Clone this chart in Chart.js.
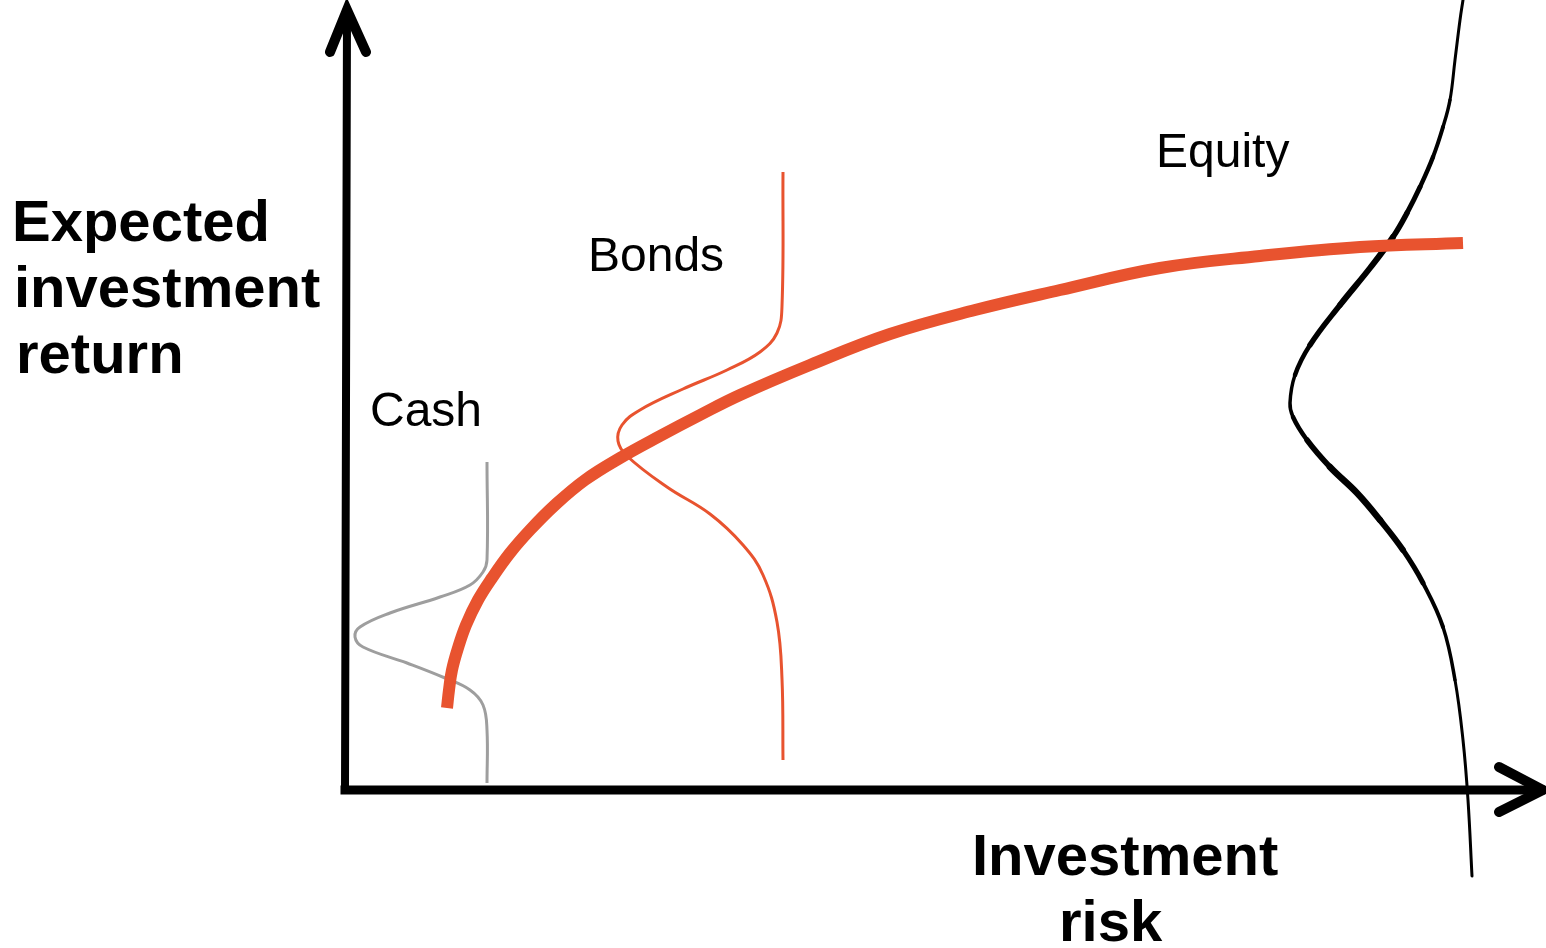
<!DOCTYPE html>
<html>
<head>
<meta charset="utf-8">
<script src="https://cdn.jsdelivr.net/npm/chart.js@4"></script>
<style>
  html, body { margin: 0; padding: 0; background: #fff; }
  #wrap { position: relative; width: 1546px; height: 948px; overflow: hidden; }
  .lbl { position: absolute; font-family: "Liberation Sans", Arial, sans-serif; color: #000; white-space: nowrap; }
  .big { font-size: 58px; font-weight: bold; line-height: 66px; }
  .small { font-size: 48px; line-height: 48px; }
</style>
</head>
<body>
<div id="wrap">
  <canvas id="chart" width="1546" height="948"></canvas>
  <div class="lbl big" style="left:12px;top:188px;">Expected</div>
  <div class="lbl big" style="left:14px;top:254px;">investment</div>
  <div class="lbl big" style="left:16px;top:320px;">return</div>
  <div class="lbl big" style="left:972px;top:822px;">Investment</div>
  <div class="lbl big" style="left:1059px;top:888px;">risk</div>
  <div class="lbl small" style="left:370px;top:386px;">Cash</div>
  <div class="lbl small" style="left:588px;top:231px;">Bonds</div>
  <div class="lbl small" style="left:1156px;top:127px;">Equity</div>
</div>
<script>
// risk (x) / return (y) in arbitrary units, origin at the axes corner
const frontier = [
  {x:10.2,y:8.2},{x:10.4,y:10.0},{x:10.7,y:12.0},{x:11.3,y:14.2},{x:12.1,y:16.5},
  {x:13.3,y:19.0},{x:14.7,y:21.2},{x:16.5,y:23.7},{x:18.5,y:26.0},{x:21.0,y:28.5},
  {x:24.0,y:31.0},{x:27.5,y:33.2},{x:31.5,y:35.4},{x:35.5,y:37.5},{x:39.5,y:39.5},
  {x:46.5,y:42.5},{x:54.5,y:45.6},{x:63.0,y:48.0},{x:71.5,y:50.0},{x:81.5,y:52.2},
  {x:91.5,y:53.4},{x:101.5,y:54.3},{x:111.8,y:54.7}
];
const cash = [
  {x:14.2,y:32.8},{x:14.2,y:23.0},{x:13.8,y:21.8},{x:12.5,y:20.5},{x:9.5,y:19.3},
  {x:4.5,y:17.7},{x:1.5,y:16.3},{x:1.0,y:15.3},{x:1.8,y:14.3},{x:6.2,y:12.7},
  {x:10.0,y:11.2},{x:12.5,y:10.0},{x:13.8,y:8.5},{x:14.2,y:6.0},{x:14.2,y:0.7}
];
const bonds = [
  {x:43.8,y:61.8},{x:43.7,y:48.4},{x:43.2,y:45.7},{x:41.5,y:43.8},{x:38.2,y:42.0},
  {x:33.8,y:40.1},{x:29.5,y:38.0},{x:27.7,y:36.5},{x:27.3,y:34.9},{x:28.2,y:33.4},
  {x:32.2,y:30.3},{x:36.5,y:27.6},{x:39.8,y:24.5},{x:41.8,y:21.5},{x:43.2,y:16.8},
  {x:43.7,y:11.1},{x:43.8,y:3.0}
];
const equity = [
  {x:111.8,y:79.0},{x:111.5,y:77.0},{x:111.0,y:73.0},{x:110.5,y:69.0},{x:109.8,y:66.3},
  {x:108.8,y:63.3},{x:107.5,y:60.3},{x:106.2,y:57.7},{x:104.8,y:55.3},{x:102.5,y:52.2},
  {x:99.5,y:48.5},{x:96.5,y:44.5},{x:95.0,y:41.5},{x:94.5,y:38.7},{x:94.8,y:37.3},
  {x:96.2,y:35.0},{x:98.5,y:32.3},{x:101.2,y:29.7},{x:103.5,y:27.0},{x:105.8,y:24.0},
  {x:107.8,y:20.7},{x:109.8,y:16.3},{x:111.0,y:11.0},{x:111.8,y:5.0},{x:112.3,y:-1.0},
  {x:112.7,y:-8.6}
];
// stroke width of each equity segment (the hand-drawn line swells in the middle)
const equityWidths = [3,3,3,3.5,4,4.5,5,5.5,6,6,5.5,4.5,3.5,3.5,4.5,5.5,6.5,6.5,6,5,4,3.5,3,3,3];

const yAxisLine = [{x:0,y:0},{x:0.2,y:77.8}];
const xAxisLine = [{x:0,y:0},{x:119.5,y:0}];
const yArrow = [{x:-1.5,y:73.8},{x:0.2,y:78.0},{x:2.1,y:73.8}];
const xArrow = [{x:115.4,y:2.3},{x:119.8,y:0},{x:115.4,y:-2.2}];

const red = '#e8532f';

function curve(data, color, width, tension) {
  return {data, borderColor: color, borderWidth: width, tension: tension, pointRadius: 0,
          fill: false, showLine: true, clip: false, borderCapStyle: 'butt'};
}

new Chart(document.getElementById('chart'), {
  type: 'scatter',
  data: {
    datasets: [
      curve(frontier, red, 12, 0.4),
      Object.assign(curve(equity, '#000', 4, 0.4), {
        borderCapStyle: 'round',
        segment: {borderWidth: ctx => equityWidths[ctx.p0DataIndex] || 3}
      }),
      curve(bonds, red, 3, 0.4),
      curve(cash, '#9e9e9e', 3, 0.4),
      Object.assign(curve(yAxisLine, '#000', 8, 0), {borderCapStyle: 'square'}),
      Object.assign(curve(xAxisLine, '#000', 9, 0), {borderCapStyle: 'square'}),
      Object.assign(curve(yArrow, '#000', 10, 0), {borderCapStyle: 'round'}),
      Object.assign(curve(xArrow, '#000', 10, 0), {borderCapStyle: 'round'})
    ]
  },
  options: {
    responsive: false,
    animation: false,
    events: [],
    layout: {padding: 0},
    plugins: {legend: {display: false}, tooltip: {enabled: false}},
    scales: {
      x: {type: 'linear', display: false, min: -34.5, max: 120.1},
      y: {type: 'linear', display: false, min: -15.8, max: 79.0}
    }
  }
});
</script>
</body>
</html>
